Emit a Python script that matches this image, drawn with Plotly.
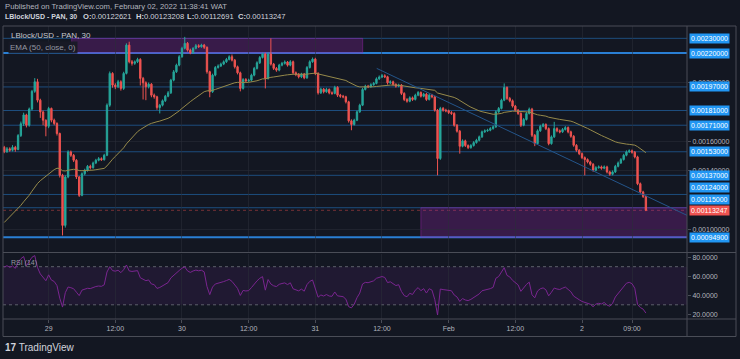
import plotly.graph_objects as go
import pandas as pd

# ---------------- data (prices in units of 1e-5 USD) ----------------
UNIT = 1e-5
start_time = "2022-01-28 16:00"   # first visible 30-minute candle
first_open = 156.0
closes = [
    153.0, 155.0, 154.0, 156.0, 154.5, 164.0, 172.0, 178.0, 171.0, 182.0,
    194.0, 200.5, 188.0, 180.0, 174.4, 170.3, 182.4, 174.4, 172.2, 165.4,
    137.0, 103.0, 135.9, 152.9, 150.6, 147.2, 135.9, 123.4, 138.1, 140.4,
    143.1, 142.2, 145.4, 147.2, 148.3, 147.6, 150.6, 184.6, 206.2, 198.2,
    197.1, 200.5, 196.0, 206.2, 225.4, 214.1, 213.0, 214.1, 215.7, 202.8,
    199.8, 197.1, 198.9, 191.4, 190.3, 183.0, 184.6, 187.6, 190.7, 193.0,
    201.6, 207.3, 211.8, 217.5, 223.2, 226.6, 222.0, 220.2, 223.2, 225.0,
    224.3, 225.4, 223.9, 207.3, 193.7, 205.0, 210.2, 211.2, 212.5, 214.1,
    215.7, 217.5, 215.2, 210.7, 206.6, 196.0, 202.0, 201.2, 201.6, 205.0,
    209.6, 213.4, 217.0, 219.3, 202.8, 219.3, 212.5, 209.6, 208.4, 211.8,
    213.0, 213.9, 211.8, 214.1, 206.6, 205.5, 203.9, 205.7, 203.2, 210.2,
    214.1, 215.9, 206.2, 193.0, 195.5, 193.7, 195.3, 193.0, 192.6, 196.7,
    191.4, 190.7, 190.3, 186.9, 174.0, 171.5, 174.4, 180.1, 184.6, 195.3,
    197.5, 197.1, 198.5, 199.4, 202.5, 203.7, 204.6, 203.9, 199.8, 200.5,
    198.7, 197.5, 198.2, 192.6, 188.5, 187.3, 189.6, 188.5, 191.4, 193.2,
    190.7, 192.1, 188.5, 191.4, 190.3, 181.2, 148.4, 182.4, 181.2, 180.8,
    179.6, 179.0, 171.0, 167.0, 156.7, 160.4, 157.2, 155.8, 157.2, 159.2,
    160.8, 163.1, 166.5, 167.2, 167.6, 168.7, 169.9, 180.1, 182.4, 188.0,
    196.6, 189.2, 187.6, 184.0, 181.2, 179.0, 171.0, 174.9, 179.0, 181.9,
    164.2, 158.5, 167.2, 170.3, 171.5, 168.7, 158.5, 163.1, 168.7, 167.2,
    166.5, 168.1, 169.4, 166.5, 163.5, 157.4, 154.0, 151.7, 149.0, 147.7,
    146.1, 144.5, 140.4, 142.2, 142.7, 141.8, 142.7, 139.3, 137.7, 139.3,
    143.1, 145.4, 147.7, 150.6, 152.9, 153.6, 152.7, 149.5, 131.3, 125.7,
    122.621, 113.247,
]
highs = [
    157.0, 156.2, 156.0, 157.5, 157.0, 165.0, 173.5, 179.5, 178.8, 183.0,
    195.0, 203.0, 202.5, 189.0, 181.0, 175.0, 183.5, 183.0, 175.5, 173.0,
    166.0, 138.0, 137.0, 154.0, 153.8, 151.5, 148.0, 136.5, 139.0, 141.5,
    144.0, 144.2, 146.3, 148.2, 149.4, 149.2, 151.6, 185.8, 207.5, 207.0,
    199.5, 201.8, 201.5, 207.3, 226.6, 227.7, 215.3, 215.0, 216.8, 216.5,
    203.8, 200.8, 200.0, 199.6, 192.5, 191.0, 185.5, 188.5, 191.6, 194.2,
    202.5, 208.5, 212.8, 218.6, 224.3, 231.0, 227.5, 223.0, 224.0, 226.2,
    226.0, 226.3, 226.2, 224.5, 208.0, 206.0, 211.2, 212.3, 213.5, 215.0,
    216.7, 218.5, 219.0, 216.0, 211.5, 207.4, 203.0, 203.0, 202.6, 206.0,
    210.6, 214.4, 218.0, 220.3, 220.2, 220.5, 230.0, 213.3, 210.5, 212.7,
    214.0, 215.0, 214.6, 215.2, 214.9, 207.5, 206.4, 206.6, 206.5, 211.2,
    215.1, 217.0, 216.8, 207.0, 196.5, 196.3, 196.4, 196.0, 194.0, 197.8,
    197.5, 192.3, 191.6, 191.0, 187.6, 175.0, 175.4, 181.0, 185.6, 196.3,
    198.5, 198.4, 199.5, 200.4, 203.5, 204.8, 205.8, 205.6, 204.6, 201.5,
    201.3, 199.5, 199.2, 199.0, 193.4, 189.4, 190.6, 190.5, 192.4, 194.2,
    194.0, 193.0, 193.0, 192.4, 192.3, 191.0, 182.0, 183.5, 183.4, 182.2,
    181.6, 180.6, 179.8, 171.8, 167.8, 161.4, 161.2, 158.0, 158.2, 160.2,
    161.8, 164.0, 167.4, 168.2, 168.6, 169.7, 170.9, 181.1, 183.4, 189.0,
    199.4, 197.4, 190.2, 188.5, 184.8, 182.0, 179.8, 175.9, 180.0, 183.0,
    182.8, 165.0, 168.2, 171.3, 172.5, 172.3, 169.5, 164.1, 173.3, 169.6,
    168.1, 169.1, 170.4, 170.2, 167.3, 164.3, 158.2, 154.8, 152.5, 149.8,
    148.5, 146.9, 145.3, 143.2, 143.7, 143.6, 143.7, 143.5, 140.1, 140.3,
    144.1, 146.4, 148.7, 151.6, 153.9, 154.6, 154.5, 153.5, 150.3, 132.1,
    126.5, 123.208,
]
lows = [
    152.0, 152.3, 153.0, 153.2, 153.0, 154.0, 163.0, 170.5, 169.5, 170.0,
    181.0, 193.0, 186.5, 176.0, 171.0, 163.5, 169.0, 173.0, 171.0, 164.0,
    135.5, 96.2, 101.5, 135.0, 149.5, 146.0, 134.5, 122.3, 122.8, 137.0,
    139.5, 141.0, 141.5, 144.6, 146.5, 146.8, 147.0, 150.0, 183.5, 196.5,
    195.5, 196.2, 194.5, 195.0, 205.5, 213.0, 211.5, 212.0, 213.2, 198.0,
    188.5, 188.0, 196.0, 190.0, 189.0, 181.5, 179.0, 183.8, 186.8, 190.0,
    192.2, 200.8, 206.5, 211.0, 216.8, 222.5, 221.0, 219.2, 219.5, 222.5,
    223.5, 223.6, 222.8, 206.0, 190.0, 193.0, 204.2, 209.4, 210.5, 211.8,
    213.3, 215.0, 214.3, 209.5, 205.5, 194.0, 195.2, 200.2, 200.4, 200.8,
    204.2, 208.8, 212.6, 216.3, 196.0, 202.0, 211.5, 208.5, 207.3, 207.6,
    211.0, 212.2, 210.8, 211.0, 205.5, 204.3, 202.8, 203.0, 202.2, 202.5,
    209.5, 213.4, 205.0, 191.8, 192.2, 192.6, 193.0, 192.0, 191.6, 192.0,
    190.2, 189.6, 189.3, 185.8, 172.8, 167.6, 170.8, 173.8, 179.4, 184.0,
    194.6, 196.2, 196.4, 197.8, 198.8, 201.8, 203.0, 203.0, 198.6, 199.0,
    197.8, 196.5, 196.8, 191.5, 187.4, 186.3, 186.6, 187.5, 187.8, 190.7,
    189.8, 190.0, 187.5, 187.8, 189.3, 180.2, 137.0, 147.5, 180.2, 179.8,
    178.6, 178.0, 170.0, 166.0, 151.7, 156.0, 156.2, 154.8, 155.0, 156.5,
    158.5, 160.0, 162.4, 165.8, 166.5, 166.9, 168.0, 169.2, 179.4, 181.7,
    187.3, 188.2, 186.6, 183.0, 180.2, 178.0, 169.8, 170.3, 174.2, 178.3,
    163.0, 156.8, 157.8, 166.5, 169.6, 167.7, 157.4, 157.8, 162.4, 166.2,
    165.5, 165.8, 167.4, 165.5, 162.5, 156.4, 153.0, 150.7, 148.0, 137.0,
    145.1, 143.5, 139.4, 139.7, 141.5, 140.8, 141.1, 138.3, 136.7, 137.0,
    138.6, 142.4, 144.7, 147.0, 149.9, 152.2, 151.7, 148.5, 130.3, 124.7,
    121.6, 112.691,
]
opens = [first_open] + closes[:-1]

ema_length = 50
ema_seed = 103.0
rsi_length = 14
rsi_seed_gain = 2.6
rsi_seed_loss = 0.9

# horizontal levels drawn on the chart
levels = [230.0, 220.0, 197.0, 181.0, 171.0, 153.0, 137.0, 124.0, 115.0, 94.9]
strong_levels = [220.0, 94.9]
level_labels = ["0.00230000", "0.00220000", "0.00197000", "0.00181000", "0.00171000",
                "0.00153000", "0.00137000", "0.00124000", "0.00115000", "0.00094900"]
level_label_pos = [230.0, 220.0, 197.0, 181.0, 171.0, 153.0, 137.0, 128.4, 120.9, 94.9]
last_price = 113.247
last_label = "0.00113247"
price_ticks = [100.0, 140.0, 160.0, 200.0]

# header values
header_pairs = [("O:", "0.00122621"), ("H:", "0.00123208"), ("L:", "0.00112691"), ("C:", "0.00113247")]

# zones (candle index span, price span)
top_zone_idx = [24.3, 129.05]
top_zone_price = [220.0, 230.0]
bottom_zone_idx0 = 150.0
bottom_zone_price = [94.9, 115.0]

# descending trend line (candle index, price)
trend_idx = [134.1, 246.5]
trend_price = [209.6, 109.2]

# time axis
tick_times = ["2022-01-29 00:00", "2022-01-29 12:00", "2022-01-30 00:00", "2022-01-30 12:00",
              "2022-01-31 00:00", "2022-01-31 12:00", "2022-02-01 00:00", "2022-02-01 12:00",
              "2022-02-02 00:00", "2022-02-02 09:00"]
tick_text = ["29", "12:00", "30", "12:00", "31", "12:00", "Feb", "12:00", "2", "09:00"]
x_range_idx = [-0.43, 245.8]

rsi_ticks = [20, 40, 60, 80]
rsi_tick_text = ["20.0000", "40.0000", "60.0000", "80.0000"]
price_axis_range = [84.6, 238.37]
rsi_axis_range = [15.1, 83.85]

# ---------------- derived ----------------
t0 = pd.Timestamp(start_time)
def idx_time(i):
    return t0 + pd.Timedelta(minutes=30 * i)

times = [idx_time(i) for i in range(len(closes))]

k = 2.0 / (ema_length + 1)
ema = []
prev = ema_seed
for c in closes:
    prev = prev + k * (c - prev)
    ema.append(prev)

rsi = []
ag, al = rsi_seed_gain, rsi_seed_loss
prev_c = first_open
for c in closes:
    ch = c - prev_c
    ag = (ag * (rsi_length - 1) + max(ch, 0)) / rsi_length
    al = (al * (rsi_length - 1) + max(-ch, 0)) / rsi_length
    rsi.append(100 - 100 / (1 + ag / al) if al > 0 else 100)
    prev_c = c

# ---------------- styling ----------------
W, H = 740, 359
L_M, R_M, T_M, B_M = 3, 53, 26, 40
PW = W - L_M - R_M
PH = H - T_M - B_M
def px(x):
    return (x - L_M) / PW
def py(y):
    return (H - B_M - y) / PH

BG = "#131722"
GRID = "rgba(42,46,57,0.55)"
BORDER = "#4a4d57"
TXT = "#b2b5be"
GREEN = "#26a69a"
RED = "#ef5350"
FONT = "Liberation Sans, Arial, sans-serif"

main_dom = [py(252.5), 1.0]
rsi_dom = [0.0, py(253.5)]

fig = go.Figure()
fig.add_trace(go.Candlestick(
    x=times,
    open=[v * UNIT for v in opens], high=[v * UNIT for v in highs],
    low=[v * UNIT for v in lows], close=[v * UNIT for v in closes],
    increasing=dict(line=dict(color=GREEN, width=1), fillcolor=GREEN),
    decreasing=dict(line=dict(color=RED, width=1), fillcolor=RED),
    whiskerwidth=0, showlegend=False, hoverinfo="skip", xaxis="x", yaxis="y"))

fig.add_trace(go.Scatter(x=times, y=[v * UNIT for v in ema], mode="lines",
                         line=dict(color="#968a4b", width=1), showlegend=False,
                         hoverinfo="skip", xaxis="x", yaxis="y"))

fig.add_trace(go.Scatter(x=[idx_time(i) for i in trend_idx], y=[v * UNIT for v in trend_price],
                         mode="lines", line=dict(color="#24558a", width=1), showlegend=False,
                         hoverinfo="skip", xaxis="x", yaxis="y"))

fig.add_trace(go.Scatter(x=times, y=rsi, mode="lines", line=dict(color="#7a2590", width=1),
                         showlegend=False, hoverinfo="skip", xaxis="x2", yaxis="y2"))

shapes = []
shapes.append(dict(type="rect", xref="x", yref="y",
                   x0=idx_time(top_zone_idx[0]), x1=idx_time(top_zone_idx[1]),
                   y0=top_zone_price[0] * UNIT, y1=top_zone_price[1] * UNIT,
                   fillcolor="rgba(156,39,176,0.28)", line=dict(color="rgba(156,39,176,0.45)", width=1),
                   layer="below"))
shapes.append(dict(type="rect", xref="x", yref="y",
                   x0=idx_time(bottom_zone_idx0), x1=idx_time(x_range_idx[1] + 1),
                   y0=bottom_zone_price[0] * UNIT, y1=bottom_zone_price[1] * UNIT,
                   fillcolor="rgba(156,39,176,0.28)", line=dict(color="rgba(156,39,176,0.45)", width=1),
                   layer="below"))
for lv in levels:
    strong = lv in strong_levels
    shapes.append(dict(type="line", xref="paper", yref="y", x0=0, x1=1,
                       y0=lv * UNIT, y1=lv * UNIT,
                       line=dict(color="#2a7fd4" if strong else "#1d4d7e", width=2 if strong else 1),
                       layer="below"))
shapes.append(dict(type="line", xref="paper", yref="y", x0=0, x1=1,
                   y0=last_price * UNIT, y1=last_price * UNIT,
                   line=dict(color="rgba(239,83,80,0.45)", width=1, dash="dot"), layer="below"))
shapes.append(dict(type="rect", xref="paper", yref="y2", x0=0, x1=1, y0=30, y1=70,
                   fillcolor="rgba(126,40,160,0.13)", line=dict(width=0), layer="below"))
for v in (30, 70):
    shapes.append(dict(type="line", xref="paper", yref="y2", x0=0, x1=1, y0=v, y1=v,
                       line=dict(color="#5d606b", width=1, dash="dot"), layer="below"))
def seg(x0, y0, x1, y1):
    shapes.append(dict(type="line", xref="paper", yref="paper",
                       x0=px(x0), y0=py(y0), x1=px(x1), y1=py(y1),
                       line=dict(color=BORDER, width=1)))
seg(3, 26, 736, 26)
seg(3, 26, 3, 336.5)
seg(736, 26, 736, 336.5)
seg(3, 336.5, 736, 336.5)
seg(687, 26, 687, 336.5)
seg(3, 252.5, 736, 252.5)
seg(3, 319, 736, 319)

def note(x, y, text, size=8, color=TXT, **kw):
    return dict(x=px(x), y=py(y), xref="paper", yref="paper", xanchor="left", yanchor="middle",
                text=text, showarrow=False, font=dict(size=size, color=color, family=FONT), **kw)

ann = []
ann.append(note(3, 6.5, "Published on TradingView.com, February 02, 2022 11:38:41 WAT", size=7.7))
ann.append(note(3, 17, "<b>LBlock/USD - PAN, 30</b>", size=7, color="#d1d4dc"))
for (lab, val), hx in zip(header_pairs, [81, 134, 185, 236]):
    ann.append(note(hx, 17, "<b>" + lab + "</b>" + val, size=7.6, color="#d1d4dc"))
ann.append(note(9, 36, "LBlock/USD - PAN, 30", color="#c4c7ce"))
ann.append(note(8, 47.5, "EMA (50, close, 0)", color="#9598a1",
                bgcolor="rgba(24,26,38,0.92)", borderpad=1))
ann.append(note(9, 263, "RSI (14)", size=7, color="#9598a1"))
ann.append(note(3, 347, "<b>17</b> TradingView", size=10, color="#d1d4dc"))
for lbl, pos in zip(level_labels, level_label_pos):
    ann.append(dict(x=px(689), y=pos * UNIT, xref="paper", yref="y", xanchor="left", yanchor="middle",
                    text=lbl, showarrow=False, bgcolor="#2196f3", borderpad=1,
                    font=dict(size=7, color="#ffffff", family=FONT)))
ann.append(dict(x=px(689), y=last_price * UNIT, xref="paper", yref="y", xanchor="left",
                yanchor="middle", text=last_label, showarrow=False, bgcolor=RED, borderpad=1,
                font=dict(size=7, color="#ffffff", family=FONT)))

x_range = [idx_time(x_range_idx[0]), idx_time(x_range_idx[1])]

fig.update_layout(
    width=W, height=H, margin=dict(l=L_M, r=R_M, t=T_M, b=B_M, pad=0),
    paper_bgcolor=BG, plot_bgcolor=BG, showlegend=False,
    shapes=shapes, annotations=ann, hovermode=False, boxgap=0.3,
    xaxis=dict(domain=[0, 1], anchor="y", range=x_range, type="date",
               tickvals=tick_times, showticklabels=False, showgrid=True, gridcolor=GRID,
               zeroline=False, showline=False, ticks="", rangeslider=dict(visible=False),
               matches="x2"),
    yaxis=dict(domain=main_dom, anchor="x", range=[v * UNIT for v in price_axis_range],
               side="right", tickvals=[v * UNIT for v in price_ticks], tickformat=".8f",
               showgrid=True, gridcolor=GRID, zeroline=False, showline=False, ticks="outside",
               ticklen=3, tickcolor=BORDER, tickfont=dict(size=7, color=TXT, family=FONT)),
    xaxis2=dict(domain=[0, 1], anchor="y2", range=x_range, type="date",
                tickvals=tick_times, ticktext=tick_text, showgrid=True, gridcolor=GRID,
                zeroline=False, showline=False, ticks="outside", ticklen=3, tickcolor=BORDER,
                tickfont=dict(size=7, color=TXT, family=FONT), rangeslider=dict(visible=False)),
    yaxis2=dict(domain=rsi_dom, anchor="x2", range=rsi_axis_range, side="right",
                tickvals=rsi_ticks, ticktext=rsi_tick_text, showgrid=False, zeroline=False,
                showline=False, ticks="outside", ticklen=3, tickcolor=BORDER,
                tickfont=dict(size=7, color=TXT, family=FONT)),
)

fig.write_html("out.html", config={"displayModeBar": False},
               post_script="document.body.style.margin='0';document.body.style.background='#131722';")
